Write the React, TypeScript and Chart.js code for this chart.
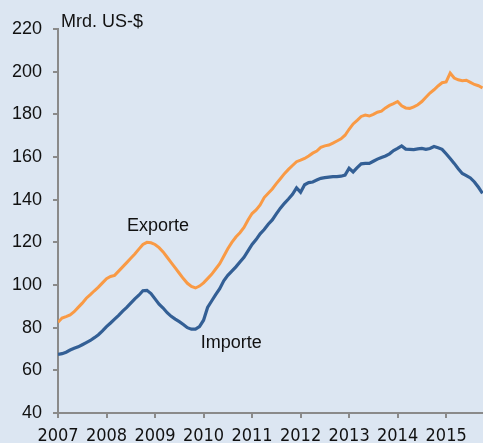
import React, { useEffect, useRef } from "react";
import { Chart, registerables } from "chart.js";

Chart.register(...registerables);

const START_YEAR = 2007;
const X_MAX = 2015.76;
const Y_MIN = 40;
const Y_MAX = 220;
const Y_STEP = 20;
const unitLabel = "Mrd. US-$";
const seriesNames = ["Exporte", "Importe"];

// Monthly values, starting Jan 2007
const exporte = [
  82.5, 84.5, 85.2, 86, 87.5, 89.5, 91.5, 93.8, 95.5, 97.3, 99, 101,
  103, 104, 104.5, 106.5, 108.5, 110.5, 112.5, 114.5, 116.8, 119, 120, 119.8,
  119, 117.5, 115.5, 113, 110.5, 108, 105.5, 103, 100.8, 99.3, 98.6, 99.5,
  101, 103, 105, 107.5, 110, 113.5, 117, 120, 122.5, 124.5, 127, 130.5,
  133.5, 135.2, 137.5, 141, 143, 145, 147.5, 149.8, 152.2, 154.2, 156, 157.8,
  158.5, 159.3, 160.5, 161.8, 162.8, 164.5, 165.2, 165.6, 166.5, 167.5, 168.5, 170.2,
  173, 175.5, 177.2, 179, 179.7, 179.2, 180, 181, 181.5, 183, 184.2, 185,
  186, 184, 183, 182.8, 183.5, 184.5, 186, 188, 190, 191.5, 193.3, 194.8,
  195.2, 199.3, 197, 196.2, 195.8, 196, 195, 194, 193.4, 192.4,
];

const importe = [
  67.5, 67.8, 68.5, 69.5, 70.3, 71, 72, 73, 74, 75.3, 76.7, 78.5,
  80.5, 82.2, 84, 85.8, 87.8, 89.5, 91.5, 93.5, 95.2, 97.3, 97.5, 96,
  93.5, 91, 89.2, 87, 85.3, 84, 82.8, 81.5, 80, 79.3, 79.3, 80.5,
  83.5, 89.5, 92.5, 95.5, 98.3, 102, 104.5, 106.5, 108.5, 110.8, 113, 116,
  119, 121.3, 124, 126, 128.5, 130.5, 133.3, 136, 138.3, 140.3, 142.5, 145.5,
  143.5, 147, 148, 148.3, 149.2, 150, 150.3, 150.6, 150.8, 150.8, 151, 151.5,
  154.7, 153, 155, 156.8, 157, 157, 158, 159, 159.8, 160.5, 161.5, 163,
  164, 165.2, 163.7, 163.6, 163.5, 163.8, 164, 163.6, 164, 164.9, 164.3, 163.6,
  161.5, 159.3, 157, 154.5, 152.3, 151.3, 150.2, 148.3, 145.8, 143,
];

const toPoints = (arr: number[]) =>
  arr.map((v, i) => ({ x: START_YEAR + i / 12, y: v }));

const COLORS = {
  bg: "#DCE6F2",
  orange: "#F99A45",
  blue: "#335F95",
  axis: "#8A8A8A",
  text: "#111111",
};

const FONT_MAIN = '"Liberation Sans", Arial, sans-serif';
const FONT_NARROW = '"Liberation Sans Narrow", "Arial Narrow", "DejaVu Sans Condensed", sans-serif';

// label anchor positions in data units
const labelPos = {
  exporte: { x: 2008.42, y: 125.3 },
  importe: { x: 2009.94, y: 70.5 },
};

const labelPlugin = {
  id: "labels",
  afterDatasetsDraw(chart: any) {
    const { ctx, scales, chartArea } = chart;
    ctx.save();
    ctx.fillStyle = COLORS.text;
    ctx.font = `18px ${FONT_MAIN}`;
    ctx.textAlign = "left";
    ctx.textBaseline = "alphabetic";
    ctx.fillText(
      seriesNames[0],
      scales.x.getPixelForValue(labelPos.exporte.x),
      scales.y.getPixelForValue(labelPos.exporte.y)
    );
    ctx.fillText(
      seriesNames[1],
      scales.x.getPixelForValue(labelPos.importe.x),
      scales.y.getPixelForValue(labelPos.importe.y)
    );
    ctx.fillText(unitLabel, chartArea.left + 3, chartArea.top - 2);
    ctx.restore();
  },
};

export default function App() {
  const ref = useRef<HTMLCanvasElement | null>(null);

  useEffect(() => {
    if (!ref.current) return;
    const chart = new Chart(ref.current, {
      type: "line",
      data: {
        datasets: [
          {
            label: seriesNames[0],
            data: toPoints(exporte),
            borderColor: COLORS.orange,
            borderWidth: 3,
            pointRadius: 0,
            tension: 0,
            fill: false,
          },
          {
            label: seriesNames[1],
            data: toPoints(importe),
            borderColor: COLORS.blue,
            borderWidth: 3.2,
            pointRadius: 0,
            tension: 0,
            fill: false,
          },
        ],
      },
      options: {
        responsive: false,
        animation: false,
        devicePixelRatio: 1,
        layout: { padding: { top: 29, right: 0, left: 0, bottom: 0 } },
        plugins: {
          legend: { display: false },
          tooltip: { enabled: false },
        },
        scales: {
          x: {
            type: "linear",
            min: START_YEAR,
            max: X_MAX,
            grid: {
              drawOnChartArea: false,
              drawTicks: true,
              tickLength: 5,
              color: COLORS.axis,
              lineWidth: 2,
            },
            border: { display: true, color: COLORS.axis, width: 2 },
            ticks: {
              stepSize: 1,
              includeBounds: false,
              autoSkip: false,
              maxRotation: 0,
              padding: 8,
              color: COLORS.text,
              font: { family: FONT_NARROW, size: 18 },
              callback: (v: any) => String(v),
            },
            afterBuildTicks: (scale: any) => {
              scale.ticks = scale.ticks.filter((t: any) => Number.isInteger(t.value));
            },
            afterFit: (scale: any) => {
              scale.height = 30;
            },
          },
          y: {
            min: Y_MIN,
            max: Y_MAX,
            grid: {
              drawOnChartArea: false,
              drawTicks: true,
              tickLength: 5,
              color: COLORS.axis,
              lineWidth: 2,
            },
            border: { display: true, color: COLORS.axis, width: 2 },
            ticks: {
              stepSize: Y_STEP,
              padding: 11,
              color: COLORS.text,
              font: { family: FONT_MAIN, size: 18 },
              callback: (v: any) => String(v),
            },
            afterFit: (scale: any) => {
              scale.width = 58;
            },
          },
        },
      },
      plugins: [labelPlugin],
    });
    return () => chart.destroy();
  }, []);

  return (
    <div
      style={{
        position: "fixed",
        left: 0,
        top: 0,
        width: 483,
        height: 443,
        background: COLORS.bg,
      }}
    >
      <canvas ref={ref} width={483} height={443} style={{ display: "block" }} />
    </div>
  );
}
